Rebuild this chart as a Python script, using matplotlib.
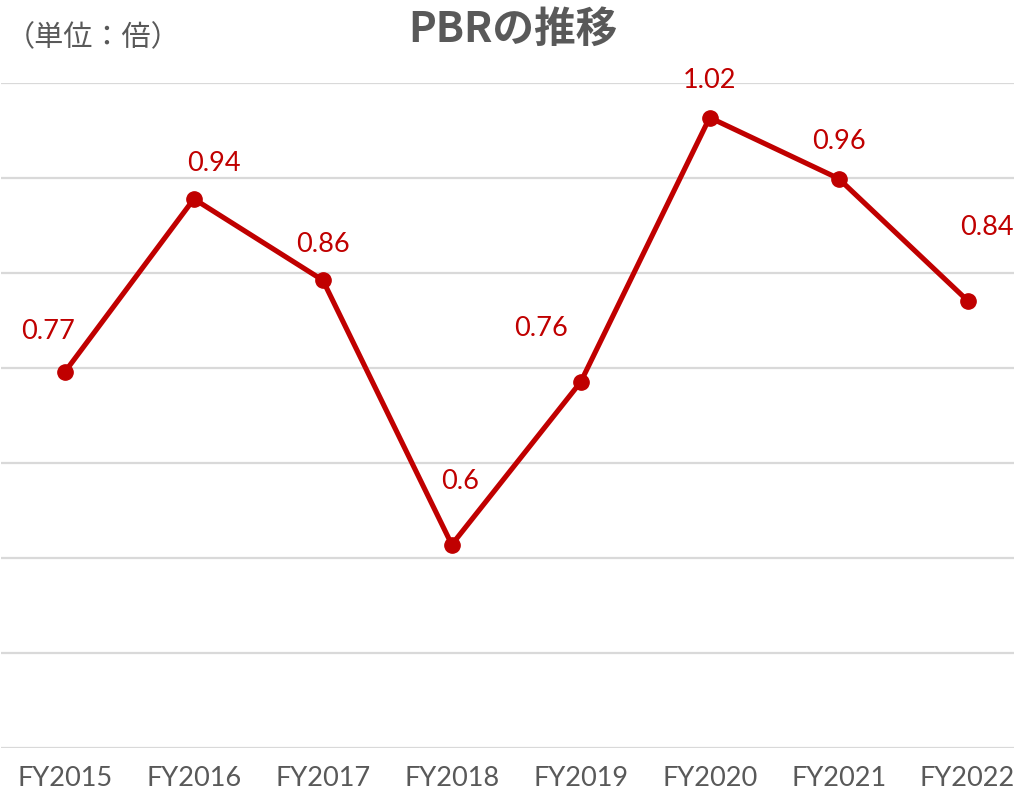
import matplotlib.pyplot as plt
import numpy as np

plt.rcParams['font.family'] = ['Lato', 'Noto Sans CJK JP', 'DejaVu Sans']

years = ['FY2015', 'FY2016', 'FY2017', 'FY2018', 'FY2019', 'FY2020', 'FY2021', 'FY2022']
pbr = [0.77, 0.94, 0.86, 0.60, 0.76, 1.02, 0.96, 0.84]
labels = ['0.77', '0.94', '0.86', '0.6', '0.76', '1.02', '0.96', '0.84']

# label offsets in pixels (dx, dy) to mimic the original placement
offsets = [(-17, 40), (20, 35), (0, 36), (8, 63), (-40, 53), (0, 37), (0, 37), (19, 73)]

red = '#C00000'
gray = '#595959'

fig = plt.figure(figsize=(10.14, 7.95), dpi=100)
ax = fig.add_axes([0.5 / 1014, 47 / 795, 1013.5 / 1014, 665 / 795])

x = np.arange(len(years))
ax.plot(x, pbr, color=red, lw=3.7, marker='o', ms=11, zorder=3)

for xi, v, lab, (dx, dy) in zip(x, pbr, labels, offsets):
    ax.annotate(lab, (xi, v), xytext=(dx * 0.72, dy * 0.72), textcoords='offset points',
                ha='center', va='center', color=red, fontsize=19.5)

ax.set_xlim(-0.5, 7.36)
ax.set_ylim(0.4, 1.054)
ax.set_yticks(np.linspace(0.4, 1.054, 8))
ax.set_yticklabels([])
ax.grid(axis='y', color='#D9D9D9', lw=1.6)
ax.set_axisbelow(True)
ax.set_xticks(x)
ax.set_xticklabels(years, color=gray, fontsize=19.5)
ax.tick_params(axis='both', length=0)
ax.tick_params(axis='x', pad=13)
for s in ax.spines.values():
    s.set_visible(False)

fig.text(513 / 1014, 1 - 30 / 795, 'PBRの推移', ha='center', va='center',
         fontsize=30, fontweight='bold', color=gray, family=['Noto Sans CJK JP'])
fig.text(6 / 1014, 1 - 38 / 795, '（単位：倍）', ha='left', va='center',
         fontsize=21, color=gray, family=['Noto Sans CJK JP'])

fig.savefig('out.png', dpi=100)
